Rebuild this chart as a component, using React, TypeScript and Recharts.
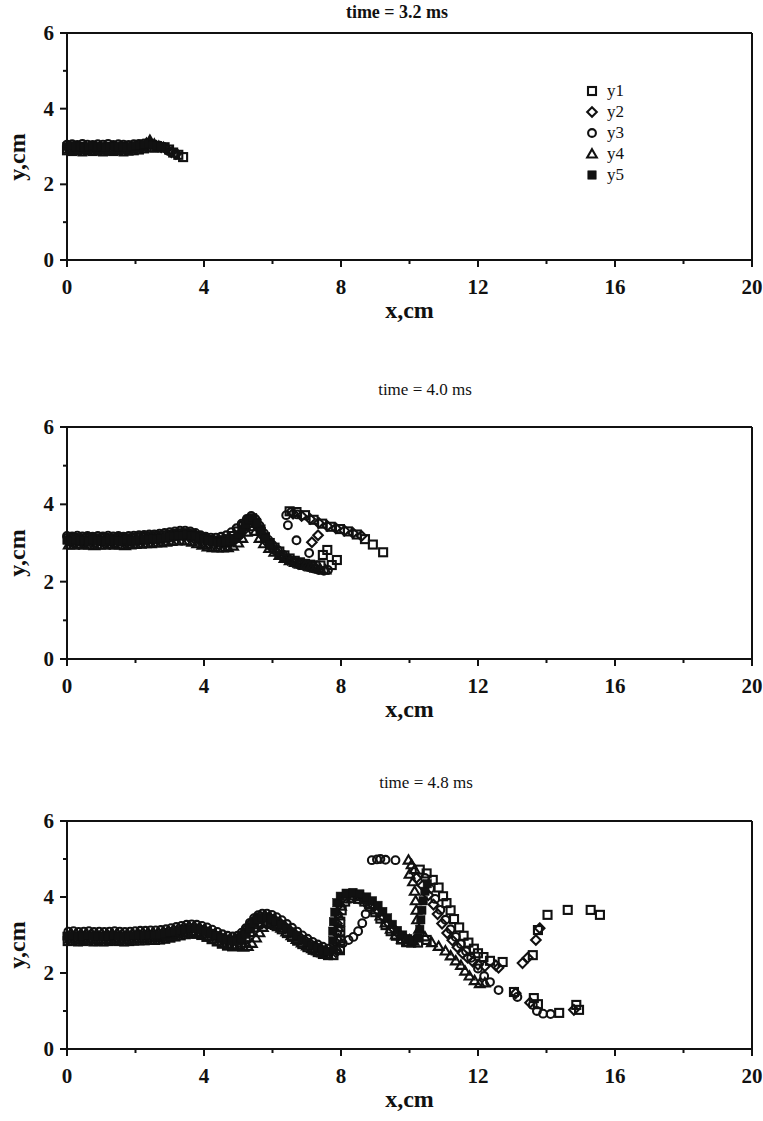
import React from 'react';
import { ScatterChart, Scatter, XAxis, YAxis, ReferenceLine, Legend } from 'recharts';

type Pt = [number, number];

// ---- axes / labels ----
const X_TICKS = [0, 2, 4, 6, 8, 10, 12, 14, 16, 18, 20];
const Y_TICKS = [0, 1, 2, 3, 4, 5, 6];
const SERIES_NAMES = ['y1', 'y2', 'y3', 'y4', 'y5'];
const TITLES = ['time = 3.2 ms', 'time = 4.0 ms', 'time = 4.8 ms'];

// ---- time = 3.2 ms ----
const t32_y1: Pt[] = [[0,2.9],[0.15,2.88],[0.3,2.9],[0.45,2.87],[0.6,2.9],[0.75,2.88],[0.9,2.9],[1.05,2.87],[1.2,2.89],[1.35,2.88],[1.5,2.9],[1.65,2.87],[1.8,2.89],[1.95,2.9],[2.1,2.92],[2.25,2.95],[2.4,2.98],[2.55,2.97],[2.7,2.98],[2.85,2.98],[2.98,2.92],[3.1,2.84],[3.25,2.78],[3.39,2.72]];
const t32_y2: Pt[] = [[0.05,2.97],[0.2,2.98],[0.35,2.96],[0.5,2.98],[0.65,2.97],[0.8,2.95],[0.95,2.98],[1.1,2.97],[1.25,2.95],[1.4,2.98],[1.55,2.97],[1.7,2.96],[1.85,2.98],[2.0,3.0],[2.15,3.02],[2.3,3.05],[2.45,3.06],[2.6,3.02],[2.75,2.98],[2.9,2.93],[3.05,2.85],[3.18,2.8]];
const t32_y3: Pt[] = [[0,3.05],[0.15,3.06],[0.3,3.04],[0.45,3.07],[0.6,3.05],[0.75,3.04],[0.9,3.06],[1.05,3.05],[1.2,3.07],[1.35,3.04],[1.5,3.06],[1.65,3.05],[1.8,3.04],[1.95,3.06],[2.1,3.07],[2.25,3.08],[2.4,3.1],[2.55,3.05],[2.7,3.02],[2.87,2.96],[3.0,2.87],[3.16,2.83]];
const t32_y4: Pt[] = [[0.08,2.93],[0.23,2.92],[0.38,2.94],[0.53,2.92],[0.68,2.93],[0.83,2.94],[0.98,2.92],[1.13,2.93],[1.28,2.92],[1.43,2.94],[1.58,2.93],[1.73,2.92],[1.88,2.94],[2.03,2.96],[2.18,3.0],[2.32,3.08],[2.42,3.16],[2.55,3.06],[2.68,3.0],[2.82,2.97]];
const t32_y5: Pt[] = [[0,3.0],[0.12,3.02],[0.25,2.99],[0.38,3.01],[0.5,2.98],[0.62,3.0],[0.75,3.02],[0.88,2.99],[1.0,3.0],[1.12,2.98],[1.25,3.01],[1.38,3.0],[1.5,2.99],[1.62,3.01],[1.75,2.98],[1.88,3.0],[2.0,3.02],[2.12,3.03],[2.25,3.05],[2.38,3.08],[2.5,3.04],[2.62,3.02],[2.75,3.0]];

// ---- time = 4.0 ms ----
const t40_y1: Pt[] = [[0.05,3.12],[0.2,3.13],[0.35,3.11],[0.5,3.12],[0.65,3.13],[0.8,3.11],[0.95,3.12],[1.1,3.13],[1.25,3.11],[1.4,3.12],[1.55,3.13],[1.7,3.11],[1.85,3.12],[2.0,3.14],[2.15,3.15],[2.3,3.16],[2.45,3.17],[2.6,3.17],[2.75,3.19],[2.9,3.2],[3.05,3.22],[3.2,3.24],[3.35,3.25],[3.5,3.25],[3.65,3.22],[3.8,3.18],[3.95,3.12],[4.1,3.08],[4.25,3.06],[4.4,3.05],[4.55,3.07],[4.7,3.1],[4.85,3.18],[5.0,3.3],[5.15,3.44],[5.3,3.58],[5.4,3.62],[5.52,3.52],[5.65,3.35],[5.78,3.15],[5.92,3.0],[6.06,2.88],[6.2,2.78],[6.35,2.68],[6.5,2.6],[6.65,2.54],[6.8,2.5],[6.95,2.46],[7.1,2.44],[7.25,2.42],[7.4,2.42],[7.47,2.69],[7.6,2.82],[7.73,2.43],[7.88,2.56],[6.5,3.82],[6.7,3.8],[6.95,3.72],[7.2,3.6],[7.45,3.5],[7.7,3.42],[7.97,3.36],[8.2,3.3],[8.46,3.22],[8.7,3.1],[8.93,2.96],[9.23,2.76]];
const t40_y2: Pt[] = [[0.1,3.02],[0.25,3.0],[0.4,3.03],[0.55,3.01],[0.7,3.02],[0.85,3.0],[1.0,3.03],[1.15,3.01],[1.3,3.02],[1.45,3.0],[1.6,3.03],[1.75,3.01],[1.9,3.02],[2.05,3.04],[2.2,3.05],[2.35,3.06],[2.5,3.07],[2.65,3.08],[2.8,3.1],[2.95,3.12],[3.1,3.14],[3.25,3.16],[3.4,3.17],[3.55,3.16],[3.7,3.12],[3.85,3.08],[4.0,3.02],[4.15,2.98],[4.3,2.96],[4.45,2.95],[4.6,2.96],[4.75,3.0],[4.9,3.08],[5.05,3.2],[5.2,3.36],[5.33,3.52],[5.45,3.6],[5.58,3.4],[5.72,3.18],[5.86,3.0],[6.0,2.86],[6.15,2.74],[6.3,2.64],[6.45,2.56],[6.6,2.5],[6.75,2.46],[6.9,2.43],[7.05,2.41],[7.2,2.4],[7.15,3.02],[7.33,3.2],[6.6,3.76],[6.85,3.7],[7.1,3.62],[7.35,3.52],[7.6,3.44],[7.85,3.38],[8.1,3.32],[8.35,3.26],[8.6,3.18]];
const t40_y3: Pt[] = [[0,3.18],[0.15,3.17],[0.3,3.19],[0.45,3.17],[0.6,3.18],[0.75,3.16],[0.9,3.18],[1.05,3.17],[1.2,3.19],[1.35,3.17],[1.5,3.18],[1.65,3.16],[1.8,3.18],[1.95,3.19],[2.1,3.2],[2.25,3.21],[2.4,3.22],[2.55,3.22],[2.7,3.24],[2.85,3.26],[3.0,3.28],[3.15,3.3],[3.3,3.32],[3.45,3.32],[3.6,3.3],[3.75,3.26],[3.9,3.2],[4.05,3.16],[4.2,3.14],[4.35,3.14],[4.5,3.16],[4.65,3.2],[4.8,3.28],[4.95,3.38],[5.1,3.5],[5.25,3.62],[5.38,3.7],[5.5,3.62],[5.62,3.45],[5.75,3.25],[5.88,3.08],[6.0,2.95],[6.15,2.82],[6.3,2.7],[6.45,2.6],[6.6,2.52],[6.75,2.46],[6.9,2.42],[7.05,2.38],[7.2,2.34],[7.35,2.3],[7.5,2.28],[7.62,2.3],[7.07,2.74],[6.7,3.07],[6.45,3.46],[6.4,3.72],[6.55,3.8],[6.72,3.74]];
const t40_y4: Pt[] = [[0.05,2.95],[0.2,2.94],[0.35,2.96],[0.5,2.94],[0.65,2.95],[0.8,2.93],[0.95,2.95],[1.1,2.94],[1.25,2.96],[1.4,2.94],[1.55,2.95],[1.7,2.93],[1.85,2.95],[2.0,2.96],[2.15,2.97],[2.3,2.98],[2.45,2.98],[2.6,3.0],[2.75,3.0],[2.9,3.02],[3.05,3.04],[3.2,3.05],[3.35,3.06],[3.5,3.05],[3.65,3.02],[3.8,2.98],[3.95,2.94],[4.1,2.9],[4.25,2.88],[4.4,2.87],[4.55,2.87],[4.7,2.88],[4.85,2.92],[5.0,3.0],[5.12,3.12],[5.25,3.28],[5.38,3.42],[5.5,3.3],[5.62,3.12],[5.75,2.98],[5.9,2.86],[6.05,2.76],[6.2,2.68],[6.35,2.6],[6.5,2.54],[6.65,2.5],[6.8,2.45],[6.95,2.42],[7.1,2.38],[7.25,2.35],[7.4,2.32],[7.55,2.3]];
const t40_y5: Pt[] = [[0,3.07],[0.12,3.05],[0.25,3.08],[0.38,3.06],[0.5,3.07],[0.62,3.05],[0.75,3.08],[0.88,3.06],[1.0,3.07],[1.12,3.05],[1.25,3.08],[1.38,3.06],[1.5,3.07],[1.62,3.05],[1.75,3.08],[1.88,3.06],[2.0,3.07],[2.12,3.08],[2.25,3.1],[2.38,3.1],[2.5,3.12],[2.62,3.1],[2.75,3.12],[2.88,3.14],[3.0,3.16],[3.12,3.18],[3.25,3.2],[3.38,3.2],[3.5,3.22],[3.62,3.2],[3.75,3.18],[3.88,3.14],[4.0,3.1],[4.12,3.06],[4.25,3.04],[4.38,3.02],[4.5,3.02],[4.62,3.03],[4.75,3.06],[4.88,3.12],[5.0,3.22],[5.1,3.35],[5.2,3.48],[5.3,3.6],[5.42,3.66],[5.55,3.5],[5.68,3.3],[5.8,3.12],[5.92,2.95]];

// ---- time = 4.8 ms ----
const t48_y1: Pt[] = [[0.02,2.84],[0.17,2.85],[0.32,2.83],[0.47,2.84],[0.62,2.85],[0.77,2.83],[0.92,2.84],[1.07,2.83],[1.22,2.84],[1.37,2.85],[1.52,2.84],[1.67,2.83],[1.82,2.84],[1.97,2.85],[2.12,2.86],[2.27,2.86],[2.42,2.87],[2.57,2.87],[2.72,2.88],[2.87,2.9],[3.02,2.93],[3.17,2.96],[3.32,2.99],[3.47,3.02],[3.62,3.04],[3.77,3.03],[3.92,3.0],[4.07,2.95],[4.22,2.89],[4.37,2.83],[4.52,2.77],[4.67,2.72],[4.82,2.7],[4.97,2.72],[5.1,2.8],[5.22,2.94],[5.34,3.08],[5.46,3.2],[5.58,3.28],[5.7,3.33],[5.84,3.33],[5.98,3.29],[6.12,3.23],[6.27,3.15],[6.42,3.05],[6.57,2.95],[6.72,2.85],[6.87,2.76],[7.02,2.68],[7.17,2.61],[7.32,2.55],[7.47,2.5],[7.62,2.47],[7.78,2.47],[7.97,2.6],[7.98,2.85],[7.98,3.1],[7.98,3.35],[8.02,3.65],[8.12,3.88],[8.3,3.97],[8.5,3.95],[8.68,3.88],[8.85,3.75],[9.0,3.6],[9.15,3.43],[9.3,3.26],[9.45,3.1],[9.6,2.98],[9.75,2.88],[9.9,2.82],[10.05,2.8],[10.25,2.8],[10.5,2.87],[10.3,4.72],[10.5,4.62],[10.68,4.45],[10.85,4.25],[10.98,4.02],[11.08,3.84],[11.2,3.65],[11.3,3.42],[11.45,3.2],[11.58,2.98],[11.72,2.8],[11.88,2.64],[12.0,2.52],[12.16,2.42],[12.35,2.32],[12.72,2.29],[13.05,1.5],[13.63,1.34],[13.75,1.18],[14.37,0.95],[14.95,1.03],[14.87,1.16],[13.6,2.47],[13.75,3.13],[14.03,3.53],[14.62,3.66],[15.29,3.66],[15.56,3.53]];
const t48_y2: Pt[] = [[0.11,3.01],[0.26,3.02],[0.41,3.0],[0.56,3.01],[0.71,3.02],[0.86,3.0],[1.01,3.01],[1.16,3.0],[1.31,3.01],[1.46,3.02],[1.61,3.01],[1.76,3.0],[1.91,3.01],[2.06,3.02],[2.21,3.03],[2.36,3.03],[2.51,3.04],[2.66,3.04],[2.81,3.06],[2.96,3.09],[3.11,3.12],[3.26,3.16],[3.41,3.19],[3.56,3.21],[3.71,3.21],[3.86,3.18],[4.01,3.14],[4.16,3.08],[4.31,3.02],[4.46,2.96],[4.61,2.91],[4.76,2.88],[4.91,2.88],[5.04,2.93],[5.16,3.05],[5.28,3.19],[5.4,3.33],[5.52,3.43],[5.64,3.49],[5.78,3.5],[5.92,3.46],[6.06,3.4],[6.21,3.32],[6.36,3.22],[6.51,3.12],[6.66,3.02],[6.81,2.93],[6.96,2.85],[7.11,2.77],[7.26,2.7],[7.41,2.64],[7.56,2.59],[7.85,2.55],[7.85,2.8],[7.87,3.05],[7.88,3.3],[7.9,3.55],[7.94,3.8],[8.05,3.98],[8.22,4.06],[8.42,4.06],[8.62,4.0],[8.8,3.9],[8.95,3.78],[9.1,3.62],[9.25,3.46],[9.4,3.3],[9.55,3.15],[9.7,3.02],[9.85,2.93],[10.0,2.88],[10.2,4.5],[10.38,4.3],[10.55,4.05],[10.7,3.8],[10.82,3.55],[10.95,3.3],[11.1,3.05],[11.25,2.86],[11.4,2.68],[11.55,2.52],[11.7,2.4],[11.85,2.3],[12.0,2.22],[12.2,2.18],[12.52,2.2],[12.6,2.14],[13.3,2.26],[13.45,2.4],[13.69,2.87],[13.8,3.18],[13.1,1.47],[13.52,1.22],[14.8,1.03]];
const t48_y3: Pt[] = [[0.04,3.09],[0.19,3.1],[0.34,3.08],[0.49,3.09],[0.64,3.1],[0.79,3.08],[0.94,3.09],[1.09,3.08],[1.24,3.09],[1.39,3.1],[1.54,3.09],[1.69,3.08],[1.84,3.09],[1.99,3.1],[2.14,3.11],[2.29,3.11],[2.44,3.12],[2.59,3.12],[2.74,3.13],[2.89,3.15],[3.04,3.18],[3.19,3.21],[3.34,3.24],[3.49,3.27],[3.64,3.28],[3.79,3.27],[3.94,3.24],[4.09,3.2],[4.24,3.14],[4.39,3.08],[4.54,3.02],[4.69,2.98],[4.84,2.96],[4.98,2.98],[5.1,3.06],[5.22,3.18],[5.34,3.32],[5.46,3.44],[5.58,3.52],[5.7,3.56],[5.84,3.56],[5.98,3.53],[6.12,3.47],[6.27,3.39],[6.42,3.29],[6.57,3.19],[6.72,3.09],[6.87,2.99],[7.02,2.9],[7.17,2.82],[7.32,2.75],[7.47,2.69],[7.62,2.64],[8.05,2.78],[8.22,2.87],[8.36,2.95],[8.5,3.1],[8.62,3.31],[8.72,3.55],[8.78,3.8],[8.9,4.97],[9.05,4.99],[9.15,5.0],[9.3,4.98],[9.59,4.97],[10.45,4.5],[10.6,4.22],[10.75,3.95],[10.9,3.66],[11.05,3.4],[11.2,3.15],[11.35,2.95],[11.5,2.76],[11.65,2.57],[11.8,2.4],[12.0,2.12],[12.18,1.92],[12.35,1.76],[12.6,1.55],[13.15,1.37],[13.6,1.16],[13.72,1.0],[13.9,0.93],[14.12,0.92]];
const t48_y4: Pt[] = [[0.08,2.89],[0.23,2.9],[0.38,2.88],[0.53,2.89],[0.68,2.9],[0.83,2.88],[0.98,2.89],[1.13,2.88],[1.28,2.89],[1.43,2.9],[1.58,2.89],[1.73,2.88],[1.88,2.89],[2.03,2.9],[2.18,2.91],[2.33,2.92],[2.48,2.92],[2.63,2.93],[2.78,2.94],[2.93,2.96],[3.08,2.99],[3.23,3.03],[3.38,3.06],[3.53,3.08],[3.68,3.09],[3.83,3.07],[3.98,3.02],[4.13,2.96],[4.28,2.9],[4.43,2.84],[4.58,2.78],[4.73,2.74],[4.88,2.72],[5.02,2.7],[5.15,2.68],[5.28,2.7],[5.4,2.78],[5.52,2.92],[5.62,3.06],[5.72,3.2],[5.82,3.3],[5.95,3.3],[6.1,3.25],[6.25,3.18],[6.4,3.08],[6.55,2.98],[6.7,2.88],[6.85,2.79],[7.0,2.71],[7.15,2.64],[7.3,2.58],[7.45,2.53],[7.6,2.5],[7.9,2.62],[7.92,2.9],[7.92,3.2],[7.94,3.5],[8.0,3.76],[8.12,3.95],[8.3,4.03],[8.5,4.01],[8.68,3.93],[8.85,3.8],[9.0,3.66],[9.15,3.5],[9.3,3.32],[9.45,3.15],[9.6,3.0],[9.78,2.88],[9.95,2.8],[10.12,2.84],[9.97,4.97],[10.06,4.85],[10.0,4.6],[10.15,4.72],[10.1,4.4],[10.15,4.15],[10.18,3.9],[10.2,3.65],[10.22,3.4],[10.28,3.15],[10.45,2.95],[10.65,2.8],[10.85,2.7],[11.05,2.58],[11.2,2.45],[11.35,2.32],[11.5,2.2],[11.62,2.05],[11.75,1.92],[11.9,1.8],[12.05,1.72],[12.2,1.74]];
const t48_y5: Pt[] = [[0,2.97],[0.15,2.98],[0.3,2.96],[0.45,2.97],[0.6,2.98],[0.75,2.96],[0.9,2.97],[1.05,2.96],[1.2,2.97],[1.35,2.98],[1.5,2.97],[1.65,2.96],[1.8,2.97],[1.95,2.98],[2.1,2.99],[2.25,2.99],[2.4,3.0],[2.55,3.0],[2.7,3.01],[2.85,3.03],[3.0,3.06],[3.15,3.09],[3.3,3.12],[3.45,3.15],[3.6,3.17],[3.75,3.17],[3.9,3.14],[4.05,3.1],[4.2,3.04],[4.35,2.98],[4.5,2.92],[4.65,2.87],[4.8,2.84],[4.95,2.84],[5.08,2.9],[5.2,3.02],[5.32,3.16],[5.44,3.3],[5.56,3.4],[5.68,3.46],[5.82,3.46],[5.96,3.42],[6.1,3.36],[6.25,3.28],[6.4,3.18],[6.55,3.08],[6.7,2.98],[6.85,2.88],[7.0,2.8],[7.15,2.72],[7.3,2.66],[7.45,2.6],[7.6,2.56],[7.78,2.62],[7.76,2.85],[7.76,3.1],[7.78,3.35],[7.82,3.6],[7.88,3.85],[7.98,4.02],[8.15,4.1],[8.35,4.12],[8.55,4.08],[8.75,4.0],[8.92,3.9],[9.08,3.78],[9.22,3.62],[9.36,3.45],[9.5,3.28],[9.65,3.12],[9.8,3.0],[9.95,2.9],[10.1,2.86],[10.25,2.92],[10.3,3.15],[10.33,3.4],[10.36,3.65],[10.4,3.9],[10.45,4.15],[10.52,4.35]];

const INK = '#111';
const SERIF = '"Liberation Serif", "Times New Roman", serif';

// ---- marker glyphs ----
const OpenSquare = (p: any) => (
  <rect x={p.cx - 4} y={p.cy - 4} width={8} height={8} fill="none" stroke={INK} strokeWidth={2.1} />
);
const OpenDiamond = (p: any) => (
  <polygon points={`${p.cx},${p.cy - 4.8} ${p.cx + 4.8},${p.cy} ${p.cx},${p.cy + 4.8} ${p.cx - 4.8},${p.cy}`} fill="none" stroke={INK} strokeWidth={2.1} />
);
const OpenCircle = (p: any) => (
  <circle cx={p.cx} cy={p.cy} r={3.9} fill="none" stroke={INK} strokeWidth={2.1} />
);
const OpenTriangle = (p: any) => (
  <polygon points={`${p.cx},${p.cy - 4.8} ${p.cx + 4.8},${p.cy + 3.5} ${p.cx - 4.8},${p.cy + 3.5}`} fill="none" stroke={INK} strokeWidth={2.1} />
);
const FilledSquare = (p: any) => (
  <rect x={p.cx - 4.2} y={p.cy - 4.2} width={8.4} height={8.4} fill={INK} stroke={INK} strokeWidth={0.5} />
);
const SHAPES = [OpenSquare, OpenDiamond, OpenCircle, OpenTriangle, FilledSquare];

const rows = (pts: Pt[]) => pts.map(([x, y]) => ({ x, y }));

// ---- ticks: labelled majors, shorter unlabelled minors ----
const XTick = (props: any) => {
  const { x, y, payload } = props;
  const major = payload.value % 4 === 0;
  return (
    <g>
      <line x1={x} x2={x} y1={y} y2={y + (major ? 7 : 4)} stroke={INK} strokeWidth={2} />
      {major && (
        <text x={x} y={y + 34} textAnchor="middle" fontFamily={SERIF} fontWeight="bold" fontSize={21} fill={INK}>
          {payload.value}
        </text>
      )}
    </g>
  );
};
const YTick = (props: any) => {
  const { x, y, payload } = props;
  const major = payload.value % 2 === 0;
  return (
    <g>
      <line x1={x} x2={x - (major ? 7 : 4)} y1={y} y2={y} stroke={INK} strokeWidth={2} />
      {major && (
        <text x={x - 13} y={y + 7} textAnchor="end" fontFamily={SERIF} fontWeight="bold" fontSize={21} fill={INK}>
          {payload.value}
        </text>
      )}
    </g>
  );
};

const LegendBox = () => (
  <div style={{ fontFamily: SERIF, fontSize: 17, color: INK }}>
    {SERIES_NAMES.map((name, i) => {
      const Shape = SHAPES[i];
      return (
        <div key={name} style={{ display: 'flex', alignItems: 'center', height: 21 }}>
          <svg width={14} height={14} style={{ marginRight: 8 }}>
            <Shape cx={7} cy={7} />
          </svg>
          <span>{name}</span>
        </div>
      );
    })}
  </div>
);

const W = 763;
const PLOT_LEFT = 67;
const RIGHT_GAP = 11;
const AXIS_H = 64;

type PanelProps = {
  top: number;
  plotTop: number;
  plotBottom: number;
  title: string;
  titleX: number;
  titleY: number;
  titleBold?: boolean;
  series: Pt[][];
  legend?: boolean;
};

function Panel({ top, plotTop, plotBottom, title, titleX, titleY, titleBold, series, legend }: PanelProps) {
  const height = plotBottom - top + AXIS_H;
  const mid = (plotTop + plotBottom) / 2 - top;
  const textBase: React.CSSProperties = {
    position: 'absolute',
    fontFamily: SERIF,
    color: INK,
    whiteSpace: 'nowrap',
    lineHeight: 1,
  };
  return (
    <div style={{ position: 'absolute', left: 0, top, width: W, height }}>
      <ScatterChart width={W} height={height} margin={{ top: plotTop - top, right: RIGHT_GAP, bottom: 0, left: 0 }}>
        <XAxis
          type="number"
          dataKey="x"
          domain={[0, 20]}
          ticks={X_TICKS}
          interval={0}
          tick={XTick}
          tickSize={0}
          tickMargin={0}
          tickLine={false}
          axisLine={{ stroke: INK, strokeWidth: 2 }}
          height={AXIS_H}
        />
        <YAxis
          type="number"
          dataKey="y"
          domain={[0, 6]}
          ticks={Y_TICKS}
          interval={0}
          tick={YTick}
          tickSize={0}
          tickMargin={0}
          tickLine={false}
          axisLine={{ stroke: INK, strokeWidth: 2 }}
          width={PLOT_LEFT}
        />
        <ReferenceLine y={6} stroke={INK} strokeWidth={2} />
        <ReferenceLine x={20} stroke={INK} strokeWidth={2} />
        {series.map((pts, i) => (
          <Scatter
            key={SERIES_NAMES[i]}
            name={SERIES_NAMES[i]}
            data={rows(pts)}
            shape={SHAPES[i]}
            isAnimationActive={false}
          />
        ))}
        {legend && (
          <Legend
            layout="horizontal"
            verticalAlign="middle"
            align="center"
            content={LegendBox}
            wrapperStyle={{ position: 'absolute', left: 585, top: 80, width: 70 }}
          />
        )}
      </ScatterChart>
      <div
        style={{
          ...textBase,
          left: titleX,
          top: titleY - top,
          transform: 'translate(-50%, -50%)',
          fontSize: titleBold ? 18 : 17,
          fontWeight: titleBold ? 'bold' : 'normal',
        }}
      >
        {title}
      </div>
      <div
        style={{
          ...textBase,
          left: (PLOT_LEFT + W - RIGHT_GAP) / 2,
          top: plotBottom - top + 50,
          transform: 'translate(-50%, -50%)',
          fontSize: 24,
          fontWeight: 'bold',
        }}
      >
        x,cm
      </div>
      <div
        style={{
          ...textBase,
          left: 17,
          top: mid + 10,
          transform: 'translate(-50%, -50%) rotate(-90deg)',
          fontSize: 24,
          fontWeight: 'bold',
        }}
      >
        y,cm
      </div>
    </div>
  );
}

export default function App() {
  return (
    <div style={{ position: 'absolute', left: 0, top: 0, width: W, height: 1121, background: '#fff' }}>
      <Panel
        top={0}
        plotTop={33}
        plotBottom={260}
        title={TITLES[0]}
        titleX={397}
        titleY={12}
        titleBold
        series={[t32_y1, t32_y2, t32_y3, t32_y4, t32_y5]}
        legend
      />
      <Panel
        top={370}
        plotTop={427}
        plotBottom={659}
        title={TITLES[1]}
        titleX={425}
        titleY={389}
        series={[t40_y1, t40_y2, t40_y3, t40_y4, t40_y5]}
      />
      <Panel
        top={760}
        plotTop={821}
        plotBottom={1049}
        title={TITLES[2]}
        titleX={426}
        titleY={782}
        series={[t48_y1, t48_y2, t48_y3, t48_y4, t48_y5]}
      />
    </div>
  );
}
